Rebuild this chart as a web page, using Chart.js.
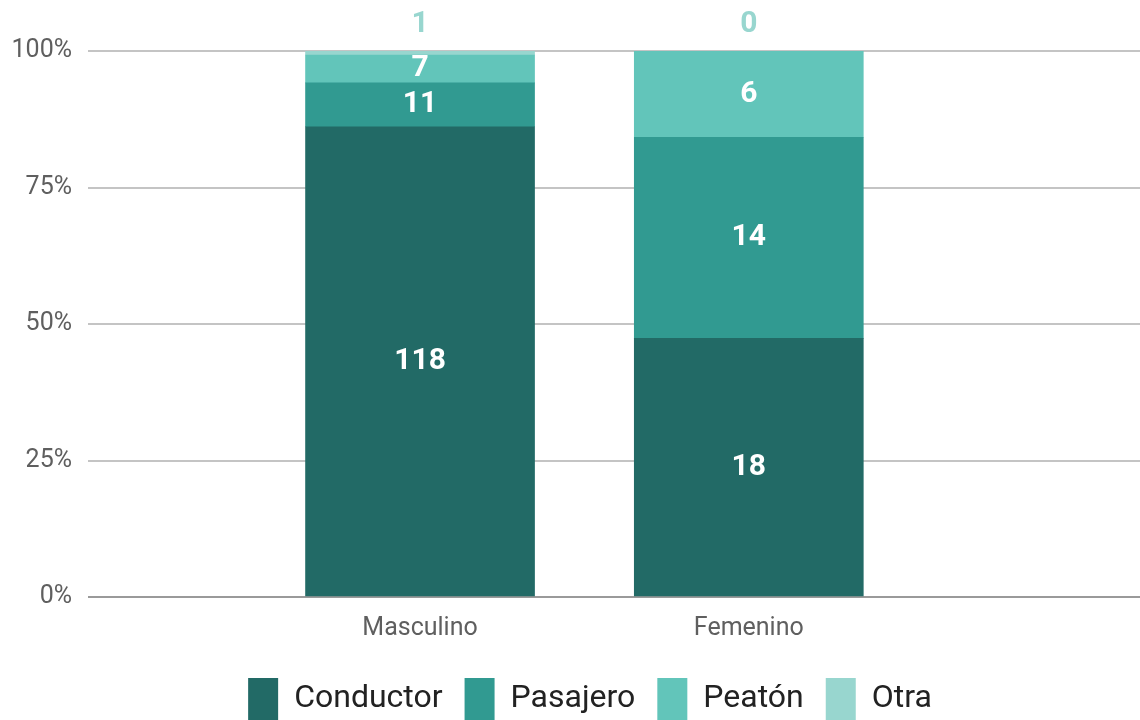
<!DOCTYPE html>
<html lang="es">
<head>
<meta charset="utf-8">
<title>Condición de la víctima por sexo</title>
<script src="https://cdn.jsdelivr.net/npm/chart.js@4.4.1/dist/chart.umd.min.js"></script>
<style>
  html, body { margin: 0; padding: 0; background: #fff; }
  #wrap { width: 1140px; height: 720px; position: relative; }
</style>
</head>
<body>
<div id="wrap"><canvas id="chart"></canvas></div>
<script>
// counts per sex, one array per role
const categories = ['Masculino', 'Femenino'];
const seriesNames = ['Conductor', 'Pasajero', 'Peatón', 'Otra'];
const conductor = [118, 18];
const pasajero = [11, 14];
const peaton = [7, 6];
const otra = [1, 0];
const yTicks = [0, 25, 50, 75, 100];

const colors = ['#226a66', '#319a91', '#62c5ba', '#98d6cf'];
const FONT = 'Roboto, "Noto Sans", sans-serif';

const counts = [conductor, pasajero, peaton, otra];
const totals = categories.map((_, i) => counts.reduce((s, arr) => s + arr[i], 0));
// stacked to 100%: each count as a share of its column
const toPct = arr => arr.map((v, i) => ({ x: i + 1, y: v / totals[i] * 100 }));

// white count inside each segment, the last series goes above the bar
const valueLabels = {
    id: 'valueLabels',
    afterDatasetsDraw(chart) {
        const { ctx, chartArea } = chart;
        ctx.save();
        ctx.font = 'bold 30px ' + FONT;
        ctx.textAlign = 'center';
        ctx.textBaseline = 'middle';
        chart.data.datasets.forEach((ds, di) => {
            chart.getDatasetMeta(di).data.forEach((bar, i) => {
                const n = counts[di][i];
                if (di === counts.length - 1) {
                    ctx.fillStyle = ds.backgroundColor;
                    ctx.fillText(String(n), bar.x, chartArea.top - 27);
                } else if (n > 0) {
                    ctx.fillStyle = '#ffffff';
                    ctx.fillText(String(n), bar.x, (bar.y + bar.base) / 2);
                }
            });
        });
        ctx.restore();
    }
};

// centre the legend a little to the right of the canvas middle
const legendShift = {
    id: 'legendShift',
    afterLayout(chart) {
        if (chart.legend) chart.legend.left += 40;
    }
};

new Chart(document.getElementById('chart'), {
    type: 'bar',
    data: {
        datasets: counts.map((arr, di) => ({
            label: seriesNames[di],
            data: toPct(arr),
            backgroundColor: colors[di],
            borderWidth: 0,
            barThickness: 229
        }))
    },
    options: {
        responsive: true,
        maintainAspectRatio: false,
        animation: false,
        layout: { padding: { top: 51, right: 0, left: 0, bottom: -10 } },
        scales: {
            x: {
                type: 'linear',
                stacked: true,
                offset: false,
                min: -0.01,
                max: 3.19,
                afterBuildTicks: scale => {
                    scale.ticks = categories.map((_, i) => ({ value: i + 1 }));
                },
                afterFit: scale => { scale.height = 59; },
                ticks: {
                    autoSkip: false,
                    maxRotation: 0,
                    padding: 17,
                    color: '#5f5f5f',
                    font: { family: FONT, size: 25 },
                    callback: v => categories[v - 1]
                },
                grid: { display: false, drawTicks: false },
                border: { display: false }
            },
            y: {
                stacked: true,
                min: 0,
                max: 100,
                afterBuildTicks: scale => {
                    scale.ticks = yTicks.map(v => ({ value: v }));
                },
                afterFit: scale => { scale.width = 88; },
                ticks: {
                    padding: 16,
                    color: '#5f5f5f',
                    font: { family: FONT, size: 25 },
                    callback: v => v + '%'
                },
                grid: {
                    drawTicks: false,
                    lineWidth: 2,
                    color: ctx => ctx.tick && ctx.tick.value === 0 ? '#9a9a9a' : '#c4c4c4'
                },
                border: { display: false }
            }
        },
        plugins: {
            legend: {
                position: 'bottom',
                labels: {
                    boxWidth: 30,
                    boxHeight: 42,
                    padding: 22,
                    color: '#222222',
                    font: { family: FONT, size: 32 }
                }
            },
            tooltip: { enabled: false }
        }
    },
    plugins: [valueLabels, legendShift]
});
</script>
</body>
</html>
